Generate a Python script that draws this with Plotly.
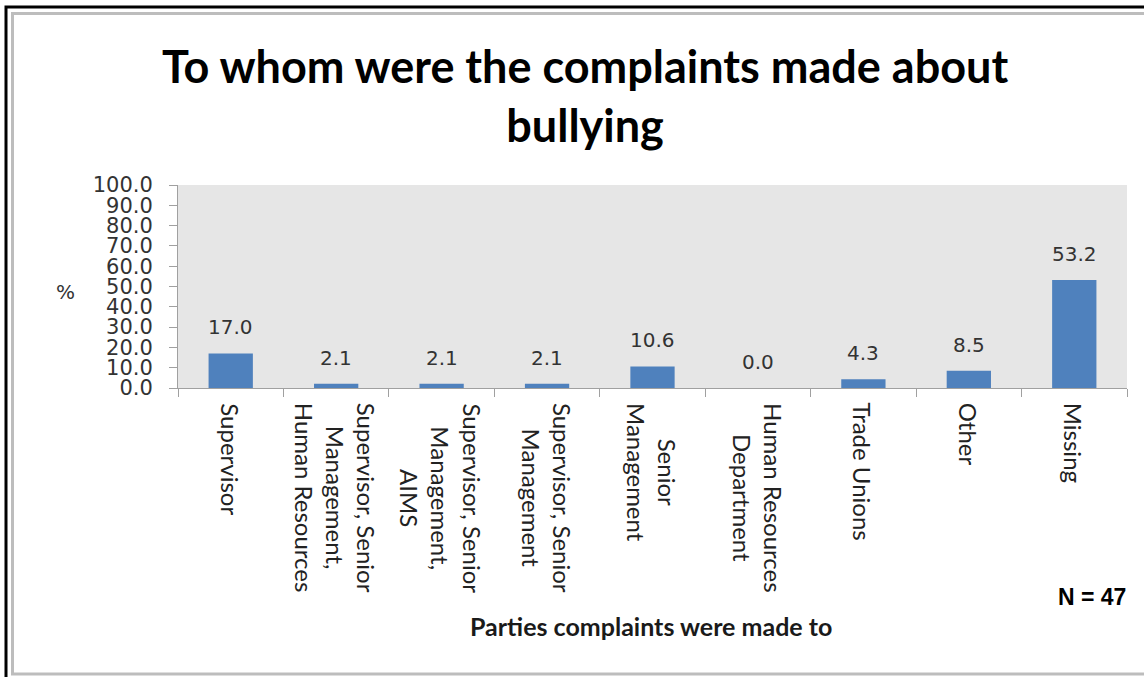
import plotly.graph_objects as go

categories = [
    "Supervisor",
    "Supervisor, Senior<br>Management,<br>Human Resources",
    "Supervisor, Senior<br>Management,<br>AIMS",
    "Supervisor, Senior<br>Management",
    "Senior<br>Management",
    "Human Resources<br>Department",
    "Trade Unions",
    "Other",
    "Missing",
]
values = [17.0, 2.1, 2.1, 2.1, 10.6, 0.0, 4.3, 8.5, 53.2]
y_ticks = [0, 10, 20, 30, 40, 50, 60, 70, 80, 90, 100]

title_text = "<b>To whom were the complaints made about<br>bullying</b>"
x_title = "<b>Parties complaints were made to</b>"
n_text = "<b>N = 47</b>"

W, H = 1144, 677
L, R, T, B = 178, 1127, 185, 388


def px2x(px):
    return (px - L) / (R - L)


def px2y(py):
    return (B - py) / (B - T)


fig = go.Figure()
fig.add_trace(go.Bar(
    x=list(range(len(categories))),
    y=values,
    marker=dict(color="#4F81BD", line=dict(width=0)),
    width=0.42,
    hoverinfo="skip",
))

annotations = []
# data labels
for i, v in enumerate(values):
    annotations.append(dict(
        x=i, y=v, xref="x", yref="y", text=f"{v:.1f}", showarrow=False,
        yanchor="bottom", xanchor="center", yshift=12,
        font=dict(family="DejaVu Sans", size=20, color="#333333"),
    ))
# category labels
for i, c in enumerate(categories):
    annotations.append(dict(
        x=i, y=0, xref="x", yref="y", text=c, showarrow=False,
        textangle=90, align="center", yanchor="top", xanchor="center",
        yshift=-13,
        font=dict(family="Lato", size=24, color="#222222"),
    ))
annotations += [
    dict(x=px2x(585), y=px2y(95), xref="paper", yref="paper", text=title_text,
         showarrow=False, xanchor="center", yanchor="middle",
         font=dict(family="Lato", size=45, color="#000000")),
    dict(x=px2x(651), y=px2y(626), xref="paper", yref="paper", text=x_title,
         showarrow=False, xanchor="center", yanchor="middle",
         font=dict(family="Lato", size=25, color="#1A1A1A")),
    dict(x=px2x(1128), y=px2y(597), xref="paper", yref="paper", text=n_text,
         showarrow=False, xanchor="right", yanchor="middle",
         font=dict(family="Liberation Sans", size=23, color="#000000")),
    dict(x=px2x(65), y=px2y(292), xref="paper", yref="paper", text="%",
         showarrow=False, xanchor="center", yanchor="middle",
         font=dict(family="DejaVu Sans", size=20, color="#333333")),
]

shapes = [
    dict(type="rect", xref="paper", yref="paper",
         x0=px2x(6), y0=px2y(7), x1=px2x(1160), y1=px2y(700),
         line=dict(color="#000000", width=3)),
    dict(type="rect", xref="paper", yref="paper",
         x0=px2x(12.5), y0=px2y(13.5), x1=px2x(1160), y1=px2y(674),
         line=dict(color="#BDBDBD", width=3)),
]

fig.update_layout(
    width=W, height=H,
    margin=dict(l=L, r=W - R, t=T, b=H - B, pad=0),
    paper_bgcolor="#FFFFFF",
    plot_bgcolor="#E6E6E6",
    showlegend=False,
    annotations=annotations,
    shapes=shapes,
    xaxis=dict(
        type="linear", range=[-0.5, len(categories) - 0.5],
        tickvals=[i - 0.5 for i in range(len(categories) + 1)],
        showticklabels=False, ticks="outside", ticklen=8, tickcolor="#A0A0A0",
        showline=True, linecolor="#A0A0A0", linewidth=1,
        showgrid=False, zeroline=False, fixedrange=True,
    ),
    yaxis=dict(
        range=[0, 100], tickvals=y_ticks, ticktext=[f"{t:.1f}" for t in y_ticks],
        ticks="outside", ticklen=8, tickcolor="#A0A0A0",
        showline=True, linecolor="#A0A0A0", linewidth=1,
        showgrid=False, zeroline=False,
        ticklabelstandoff=12,
        tickfont=dict(family="DejaVu Sans", size=21, color="#333333"),
    ),
)

fig.write_html("out.html")
